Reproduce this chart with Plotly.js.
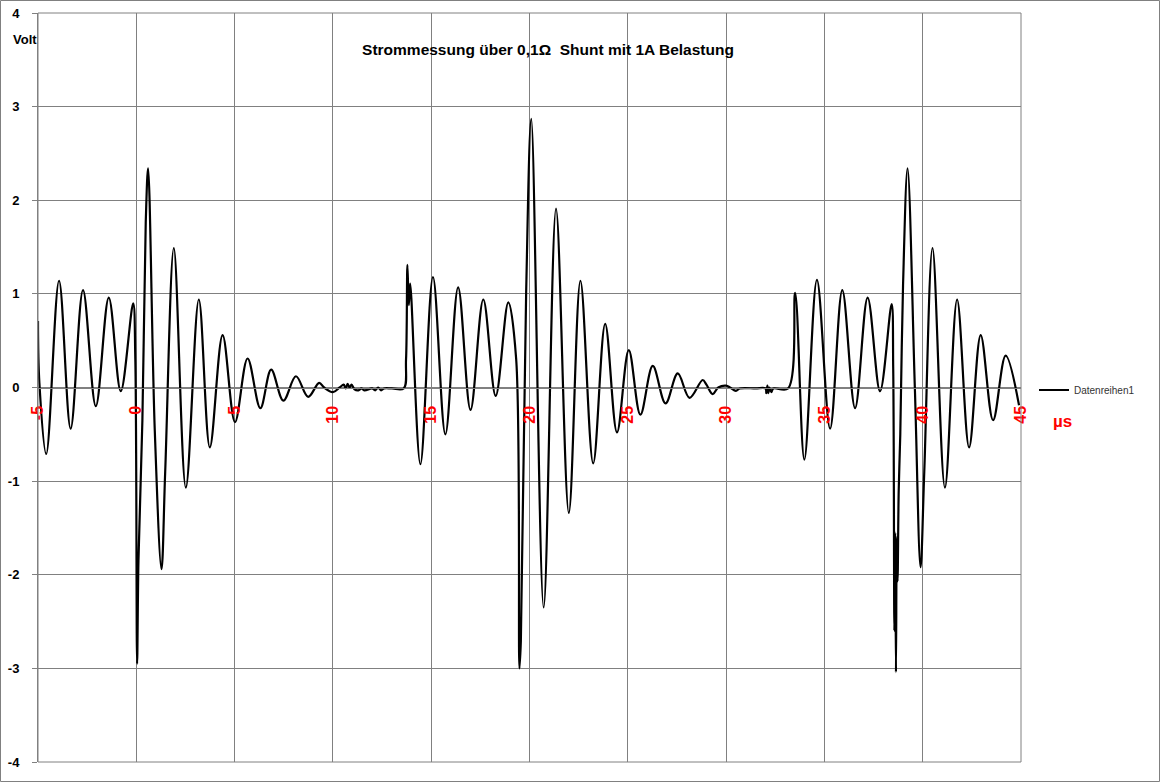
<!DOCTYPE html>
<html>
<head>
<meta charset="utf-8">
<script src="https://cdn.plot.ly/plotly-3.0.1.min.js"></script>
<style>html,body{margin:0;padding:0;background:#fff;}#chart{width:1160px;height:782px;}</style>
</head>
<body>
<div id="chart"></div>
<script>
// time in µs, voltage in V
const time = [
  -5.00, -4.93, -4.58, -3.93, -3.34, -2.71, -2.06, -1.40, -0.79, -0.16, -0.05,
   0.04,  0.11,  0.31,  0.48,  0.60,  0.94,  1.28,  1.47,  1.91,  2.52,  3.18,
   3.74,  4.39,  5.02,  5.66,  6.31,  6.86,  7.48,  8.12,  8.74,  9.30,  9.55,
  10.00, 10.34, 10.55, 10.65, 10.75, 10.85, 10.95, 11.10, 11.30, 11.45, 11.60,
  12.00, 12.15, 12.30, 12.45, 12.60, 13.00, 13.60, 13.72, 13.79, 13.86, 13.93,
  14.45, 15.09, 15.72, 16.37, 17.00, 17.65, 18.28, 18.92, 19.32, 19.49, 19.56,
  19.83, 20.09, 20.72, 21.35, 22.00, 22.59, 23.24, 23.85, 24.45, 25.05, 25.64,
  26.27, 26.92, 27.54, 28.14, 28.81, 29.00, 29.32, 29.60, 30.00, 30.20, 30.50,
  30.70, 31.50, 32.00, 32.05, 32.10, 32.15, 32.20, 32.30, 32.40, 33.15, 33.51,
  33.98, 34.62, 35.29, 35.91, 36.56, 37.20, 37.83, 38.42, 38.50, 38.56, 38.60,
  38.64, 38.68, 38.72, 38.78, 38.86, 39.00, 39.23, 39.60, 39.89, 40.08, 40.50,
  41.13, 41.75, 42.36, 42.95, 43.58, 44.22, 44.90
];
const volt = [
   0.71,  0.05, -0.71,  1.14, -0.44,  1.04, -0.20,  0.96, -0.04,  0.90,  0.30,
  -2.95, -1.85, -0.35,  1.76,  2.34, -0.46, -1.94, -0.90,  1.49, -1.07,  0.94,
  -0.64,  0.56, -0.37,  0.31, -0.22,  0.19, -0.14,  0.12, -0.10,  0.05,  0.00,
  -0.05,  0.00,  0.03, -0.01,  0.04,  0.00,  0.03, -0.02, -0.03, -0.01, -0.03,
  -0.01, -0.03,  0.00, -0.03, -0.01, -0.01, -0.01,  0.30,  1.31,  0.88,  1.11,
  -0.82,  1.18, -0.50,  1.07, -0.24,  0.94, -0.09,  0.91,  0.31, -3.00, -2.71,
   1.02,  2.87, -2.35,  1.91, -1.34,  1.14, -0.81,  0.68, -0.48,  0.40, -0.29,
   0.23, -0.17,  0.15, -0.11,  0.08,  0.03, -0.07,  0.00,  0.02,  0.00, -0.035,
  -0.01, -0.01, -0.01, -0.06,  0.02, -0.06,  0.00, -0.05, -0.01, -0.01,  1.01,
  -0.77,  1.15, -0.44,  1.04, -0.22,  0.96, -0.04,  0.89,  0.20, -2.60, -1.55,
  -3.04, -1.60, -2.07, -1.10, -0.50,  1.09,  2.34,  0.00, -1.92, -0.90,  1.49,
  -1.07,  0.94, -0.64,  0.56, -0.35,  0.34, -0.19
];
const xTicks = [-5, 0, 5, 10, 15, 20, 25, 30, 35, 40, 45];
const yTicks = [-4, -3, -2, -1, 0, 1, 2, 3, 4];
const seriesName = 'Datenreihen1';
const chartTitle = 'Strommessung über 0,1Ω&nbsp;&nbsp;Shunt mit 1A Belastung';

const W = 1160, H = 782;
const M = {l: 38, r: 139, t: 13, b: 20};
const PW = W - M.l - M.r, PH = H - M.t - M.b;
const px2x = p => (p - M.l) / PW;
const py2y = p => (H - M.b - p) / PH;
const FONT = 'Liberation Sans, Arial, sans-serif';
const GRID = '#808080';

const trace = {
  x: time, y: volt, type: 'scatter', mode: 'lines', name: seriesName,
  line: {color: '#000000', width: 2.2, shape: 'spline', smoothing: 1}
};

const layout = {
  width: W, height: H,
  margin: {l: M.l, r: M.r, t: M.t, b: M.b, pad: 0},
  paper_bgcolor: '#ffffff', plot_bgcolor: '#ffffff',
  title: {
    text: chartTitle, xref: 'container', yref: 'container',
    x: 548 / W, xanchor: 'center', y: 1 - 50 / H, yanchor: 'middle',
    font: {family: FONT, size: 15.5, color: '#000000', weight: 'bold'}
  },
  xaxis: {
    range: [-5, 45], tickvals: xTicks, ticktext: xTicks.map(String),
    tickangle: -90, ticks: '', ticklabelstandoff: 11,
    tickfont: {family: FONT, size: 16, color: '#ff0000', weight: 'bold'},
    showgrid: true, gridcolor: GRID, gridwidth: 1,
    zeroline: false, showline: true, linecolor: GRID, linewidth: 1,
    anchor: 'free', position: 0.5, fixedrange: true
  },
  yaxis: {
    range: [-4, 4], tickvals: yTicks, ticktext: yTicks.map(String),
    ticks: 'outside', ticklen: 5, tickcolor: GRID, ticklabelstandoff: 10,
    tickfont: {family: FONT, size: 13, color: '#000000', weight: 'bold'},
    showgrid: true, gridcolor: GRID, gridwidth: 1,
    zeroline: true, zerolinecolor: GRID, zerolinewidth: 1,
    showline: true, linecolor: GRID, linewidth: 1, fixedrange: true
  },
  showlegend: true,
  legend: {
    x: px2x(1034), xanchor: 'left', y: py2y(390), yanchor: 'middle',
    font: {family: FONT, size: 10, color: '#333333'},
    bgcolor: 'rgba(0,0,0,0)', borderwidth: 0
  },
  shapes: [
    {type: 'rect', xref: 'paper', yref: 'paper', x0: 0, x1: 1, y0: 0, y1: 1,
     line: {color: GRID, width: 1}},
    {type: 'rect', xref: 'paper', yref: 'paper',
     x0: px2x(0.5), x1: px2x(W - 0.5), y0: py2y(H - 0.5), y1: py2y(0.5),
     line: {color: GRID, width: 1}}
  ],
  annotations: [
    {text: 'Volt', xref: 'paper', yref: 'paper', x: px2x(25), y: py2y(40),
     xanchor: 'center', yanchor: 'middle', showarrow: false,
     font: {family: FONT, size: 13, color: '#000000', weight: 'bold'}},
    {text: 'µs', xref: 'paper', yref: 'paper', x: px2x(1062), y: py2y(421),
     xanchor: 'center', yanchor: 'middle', showarrow: false,
     font: {family: FONT, size: 17, color: '#ff0000', weight: 'bold'}}
  ]
};

Plotly.newPlot('chart', [trace], layout, {displayModeBar: false, staticPlot: true});
</script>
</body>
</html>
